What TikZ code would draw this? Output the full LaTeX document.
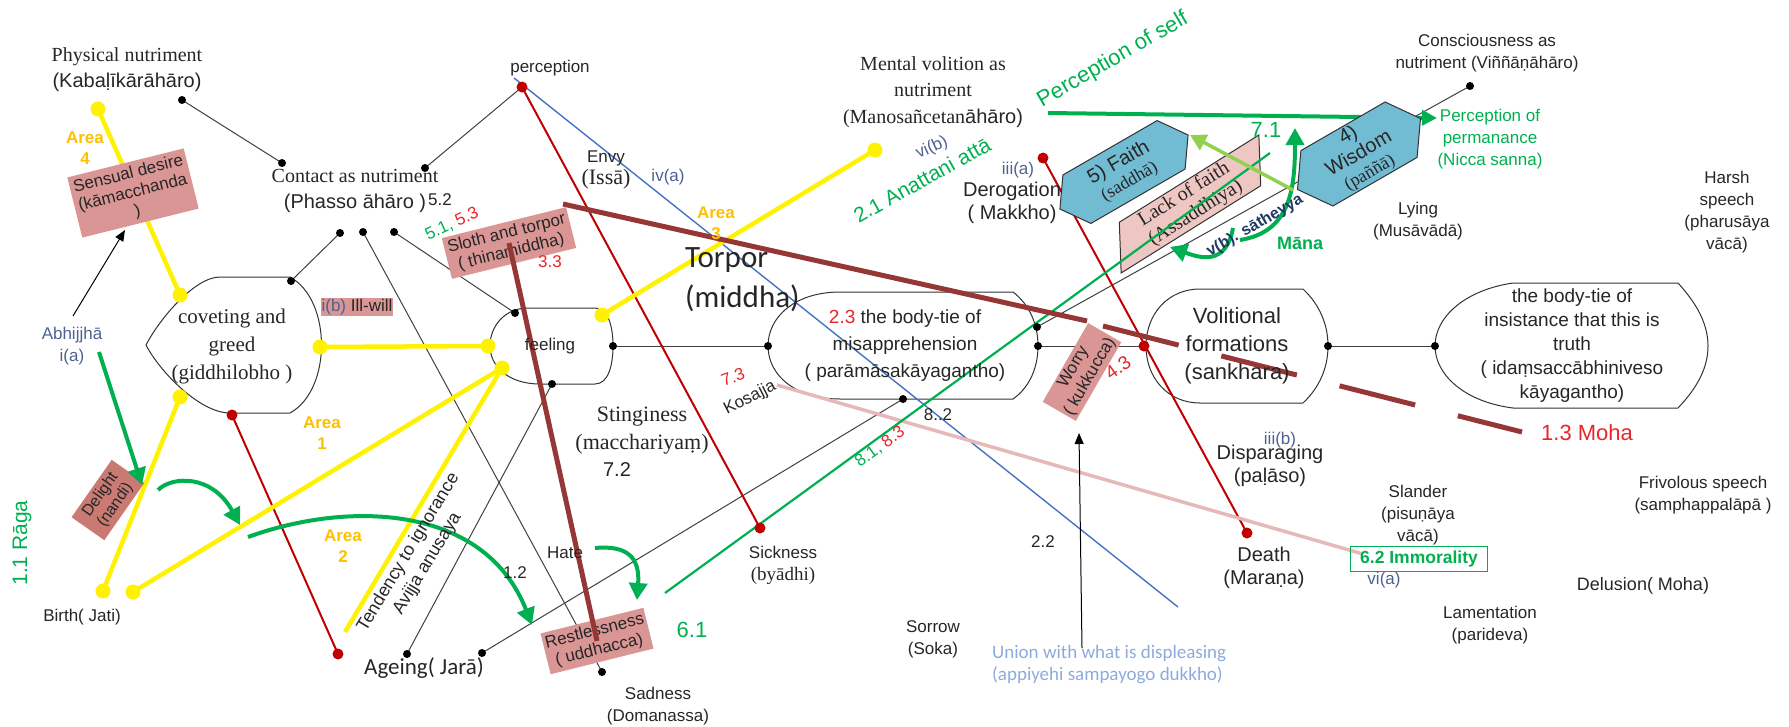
\documentclass[tikz,border=0pt]{standalone}
\usepackage{fontspec}
\setmainfont{Liberation Sans}
\newfontfamily\tnr{Liberation Serif}
\newfontfamily\calib{Carlito}
\usepackage{tikz}
\usetikzlibrary{arrows.meta,shapes.geometric,shapes.symbols}

\definecolor{txt}{HTML}{262626}
\definecolor{boxred}{HTML}{D99694}
\definecolor{delightred}{HTML}{C97A72}
\definecolor{ygreen}{HTML}{00B050}
\definecolor{lgreen}{HTML}{92D050}
\definecolor{areaor}{HTML}{FFC000}
\definecolor{dred}{HTML}{C00000}
\definecolor{tred}{HTML}{E8262A}
\definecolor{brownl}{HTML}{953735}
\definecolor{bluel}{HTML}{4472C4}
\definecolor{slate}{HTML}{4D6190}
\definecolor{navy}{HTML}{1F3864}
\definecolor{pinkl}{HTML}{E6B8B7}
\definecolor{faithblue}{HTML}{71BBD3}
\definecolor{lackpink}{HTML}{EFC7C2}
\definecolor{unionblue}{HTML}{8EAADB}

\tikzset{
t17/.style={font=\fontsize{17}{22}\selectfont},
t20/.style={font=\fontsize{20}{26}\selectfont},
lbl/.style={inner sep=0pt, align=center, text=txt},
area/.style={lbl, text=areaor, font=\fontsize{17}{21}\selectfont\bfseries}, % the yellow "Area n" marks
term/.style={lbl, fill=boxred, inner sep=2pt, font=\fontsize{17}{19}\selectfont}, % tinted boxes of the hindrances
plaque/.style={draw=black!80, line width=1pt},
wire/.style={draw=black!75, line width=1pt},
redwire/.style={draw=dred, line width=2pt},
bluewire/.style={draw=bluel, line width=1.4pt},
yelwire/.style={draw=yellow, line width=4.5pt},
pinkwire/.style={draw=pinkl, line width=3.5pt},
brownwire/.style={draw=brownl, line width=5pt},
gthin/.style={draw=ygreen, line width=2.2pt},
garrow/.style={draw=ygreen, line width=4pt, -{Triangle[length=17pt,width=18pt]}},
blackarrow/.style={draw=black, line width=1pt, -{Triangle[length=11pt,width=9pt]}},
bdot/.style={circle, fill=black, inner sep=0pt, minimum size=8pt},
ydot/.style={circle, fill=yellow, inner sep=0pt, minimum size=15pt},
rdot/.style={circle, fill=dred, inner sep=0pt, minimum size=11pt},
hexa/.style={signal, signal to=east and west, signal pointer angle=110, draw=black!80, line width=1pt, fill=faithblue, inner sep=1pt, align=center, text=txt, font=\fontsize{20}{21}\selectfont},
lack/.style={trapezium, trapezium left angle=65, trapezium right angle=115, trapezium stretches=true, draw=black!80, line width=1pt, fill=lackpink, minimum width=190pt, minimum height=44pt, inner sep=1pt, align=center, text=txt, font=\tnr\fontsize{20}{22}\selectfont},
}

\begin{document}
\begin{tikzpicture}[x=1pt, y=-1pt]
\useasboundingbox (0,0) rectangle (1789,726);

% points where the connectors meet
\coordinate (physdot) at (182,100);
\coordinate (contA) at (282,163);
\coordinate (contB) at (425,168);
\coordinate (contC) at (340,233);
\coordinate (contD) at (363,232);
\coordinate (contE) at (394,232);
\coordinate (percdot) at (522,87);
\coordinate (blueS) at (514,78);
\coordinate (blueE) at (1178,607);
\coordinate (covT) at (291,281);
\coordinate (covTL) at (180,295);
\coordinate (covE) at (320,347);
\coordinate (covBL) at (180,397);
\coordinate (covB) at (232,415);
\coordinate (yelTop) at (98,109);
\coordinate (birthA) at (103,591);
\coordinate (birthB) at (133,592);
\coordinate (ignEnd) at (345,632);
\coordinate (ageRed) at (338,654);
\coordinate (ageA) at (407,654);
\coordinate (ageB) at (482,653);
\coordinate (feelTL) at (515,313);
\coordinate (feelTR) at (602,315);
\coordinate (feelW) at (488,346);
\coordinate (feelSW) at (502,368);
\coordinate (feelS) at (552,384);
\coordinate (feelE) at (613,346);
\coordinate (mentdot) at (875,150);
\coordinate (btW) at (768,346);
\coordinate (btNE) at (1037,327);
\coordinate (btE) at (1038,346);
\coordinate (btS) at (903,399);
\coordinate (volW) at (1144,346);
\coordinate (volE) at (1328,346);
\coordinate (insW) at (1435,346);
\coordinate (consdot) at (1470,86);
\coordinate (derogdot) at (1043,158);
\coordinate (deathdot) at (1247,533);
\coordinate (sickdot) at (760,528);
\coordinate (saddot) at (602,672);
\coordinate (kosS) at (777,385);
\coordinate (kosE) at (1363,554);
\coordinate (g8S) at (665,593);
\coordinate (g8E) at (1270,153);
\coordinate (selfS) at (1048,113);
\coordinate (selfE) at (1437,118);

% the five plaques
\draw[plaque] (220,277) -- (290,277) .. controls (332,300) and (332,390) .. (290,413) -- (230,413) .. controls (200,413) and (160,372) .. (146,345) .. controls (160,318) and (195,277) .. (220,277);
\draw[plaque] (528,308) -- (595,308) .. controls (608,308) and (613,326) .. (613,346) .. controls (613,366) and (608,384) .. (595,384) -- (540,384) .. controls (508,384) and (490,366) .. (490,346) .. controls (490,326) and (505,308) .. (528,308);
\draw[plaque] (840,292) -- (1013,292) .. controls (1030,305) and (1038,325) .. (1038,346) .. controls (1038,367) and (1030,387) .. (1013,399) -- (840,399) .. controls (795,399) and (768,375) .. (768,346) .. controls (768,317) and (795,292) .. (840,292);
\draw[plaque] (1200,289) -- (1303,289) .. controls (1320,305) and (1328,325) .. (1328,346) .. controls (1328,367) and (1320,387) .. (1303,403) -- (1200,403) .. controls (1168,403) and (1146,378) .. (1146,346) .. controls (1146,314) and (1168,289) .. (1200,289);
\draw[plaque] (1513,283) -- (1678,283) .. controls (1698,305) and (1708,325) .. (1708,346) .. controls (1708,367) and (1698,387) .. (1678,408) -- (1513,408) .. controls (1465,402) and (1435,375) .. (1435,346) .. controls (1435,317) and (1465,290) .. (1513,283);

% connectors
\path[wire]
  (physdot) edge (contA)
  (percdot) edge (contB)
  (contC) edge (covT)
  (contD) edge (saddot)
  (contE) edge (feelTL)
  (ageA) edge (feelS)
  (ageB) edge (btS)
  (feelE) edge (btW)
  (btE) edge (volW)
  (volE) edge (insW)
  (btNE) edge (consdot);
\path[redwire]
  (percdot) edge (sickdot)
  (covB) edge (ageRed)
  (derogdot) edge (deathdot);
\path[bluewire] (blueS) edge (blueE);
\path[yelwire]
  (yelTop) edge (covTL)
  (covBL) edge (birthA)
  (birthB) edge (feelSW)
  (ignEnd) edge (feelSW)
  (covE) edge (feelW)
  (mentdot) edge (feelTR);
\path[pinkwire] (kosS) edge (kosE);
\draw[garrow, -{Triangle[length=15pt,width=15pt]}] (selfS) -- (selfE);

% tinted boxes
\node[term, rotate=14, minimum width=120pt, minimum height=62pt] (sensual) at (133,193) {Sensual desire\\(kāmacchanda\\)};
\node[term, rotate=55, fill=delightred, font=\fontsize{16}{18}\selectfont, minimum width=70pt, minimum height=40pt] (delight) at (108,500) {Delight\\(nandi)};
\node[term, rotate=14, minimum width=128pt, minimum height=42pt] (sloth) at (509,243) {Sloth and torpor\\( thinamiddha)};
\node[term, rotate=14, minimum width=106pt, minimum height=42pt] (restless) at (597,641) {Restlessness\\( uddhacca)};
\node[term, rotate=60, minimum width=90pt, minimum height=38pt] (worry) at (1082,372) {Worry\\( kukkucca)};
\node[term, inner sep=1pt] (illwill) at (357,307) {{\color{slate}i(b)} Ill-will};
\node[lack, rotate=32] (lackfaith) at (1190,204) {Lack of faith\\(Assaddhiya)};
\node[hexa, rotate=30, minimum width=148pt, minimum height=56pt] (faith) at (1124,172) {5) Faith\\{\tnr\fontsize{18}{20}\selectfont (saddhā)}};
\node[hexa, rotate=30, minimum width=142pt, minimum height=64pt] (wisdom) at (1359,154) {4)\\Wisdom\\{\tnr\fontsize{18}{20}\selectfont (paññā)}};
\path[gthin] (g8S) edge (g8E);

% hindrance threads
\draw[brownwire] (sloth.center) -- (restless.center);
\draw[brownwire] (563,204) coordinate (torS) -- (1087,321) coordinate (torM);
\draw[brownwire, dash pattern=on 78pt off 44pt] (1103,326) coordinate (torD) -- (1522,432) coordinate (torE);

% green arrows
\draw[garrow] (99,352) coordinate (abhG) -- (142,485) coordinate (delT);
\draw[garrow] (158,490) coordinate (delS) .. controls (172,476) and (212,474) .. (240,525) coordinate (delE);
\draw[garrow] (248,537) coordinate (bigS) .. controls (350,500) and (485,505) .. (532,625) coordinate (bigE);
\draw[garrow] (595,548) coordinate (hateS) .. controls (628,545) and (640,558) .. (637,600) coordinate (hateE);
\draw[garrow] (1240,240) coordinate (upS) .. controls (1290,232) and (1295,190) .. (1295,128) coordinate (upE);
\draw[garrow] (1233,228) coordinate (hookS) .. controls (1226,266) and (1200,258) .. (1170,247) coordinate (hookE);
\draw[draw=lgreen, line width=3.5pt, -{Triangle[length=16pt,width=17pt]}] (1293,190) coordinate (faithS) -- (1190,135) coordinate (faithE);
\draw[blackarrow] (73,316) coordinate (abhS) -- (125,230) coordinate (abhT);
\draw[blackarrow] (1082,648) coordinate (worryS) -- (1079,433) coordinate (worryT);

% dots
\foreach \d in {physdot,contA,contB,contC,contD,contE,covT,feelTL,feelS,feelE,btW,btNE,btE,btS,volE,insW,consdot,ageA,ageB,saddot}
  \node[bdot] (\d-b) at (\d) {};
\foreach \d in {yelTop,covTL,covE,covBL,birthA,birthB,feelW,feelSW,feelTR,mentdot}
  \node[ydot] (\d-y) at (\d) {};
\foreach \d in {percdot,covB,ageRed,volW,derogdot,deathdot,sickdot}
  \node[rdot] (\d-r) at (\d) {};

% plaque texts
\node[lbl, font=\tnr\fontsize{21}{28}\selectfont] (coveting) at (232,346) {coveting and\\greed\\(giddhilobho )};
\node[lbl, t17] (feeling) at (550,346) {feeling};
\node[lbl, font=\fontsize{19}{27}\selectfont] (bodytie) at (905,346) {{\color{tred}2.3} the body-tie of\\misapprehension\\( parāmāsakāyagantho)};
\node[lbl, font=\fontsize{22}{28}\selectfont] (volition) at (1237,346) {Volitional\\formations\\(sankhara)};
\node[lbl, font=\fontsize{19}{24}\selectfont] (insist) at (1572,346) {the body-tie of\\insistance that this is\\truth\\( idaṃsaccābhiniveso\\kāyagantho)};

% texts round the picture
\node[lbl, t20] (phys) at (127,70) {{\tnr Physical nutriment}\\(Kabaḷīkārāhāro)};
\node[lbl, t20] (contact) at (355,191) {{\tnr Contact as nutriment}\\(Phasso āhāro )};
\node[lbl, t17] (n52) at (440,200) {5.2};
\node[lbl, t17, rotate=25] (n51) at (452,224) {{\color{ygreen}5.1,} {\color{tred}5.3}};
\node[lbl, t17] (percep) at (550,68) {perception};
\node[lbl, t17] (envy) at (606,170) {Envy\\{\tnr\fontsize{22}{24}\selectfont (Issā)}};
\node[lbl, t17, text=slate] (iva) at (668,177) {iv(a)};
\node[lbl, font=\fontsize{20}{26.5}\selectfont] (mental) at (933,92) {{\tnr Mental volition as}\\{\tnr nutriment}\\{\tnr (Manosañcetan}āhāro)};
\node[lbl, text=ygreen, font=\fontsize{22}{26}\selectfont, rotate=30] (pself) at (1113,60) {Perception of self};
\node[lbl, t17] (consc) at (1487,53) {Consciousness as\\nutriment (Viññāṇāhāro)};
\node[lbl, t17, text=ygreen] (pperm) at (1490,139) {Perception of\\permanance\\(Nicca sanna)};
\node[lbl, t17] (harsh) at (1727,212) {Harsh\\speech\\(pharusāya\\vācā)};
\node[lbl, t17] (lying) at (1418,221) {Lying\\(Musāvādā)};
\node[lbl, text=ygreen, font=\fontsize{22}{26}\selectfont] (n71) at (1266,130) {7.1};
\node[lbl, t17, text=slate, rotate=25] (vib) at (932,148) {vi(b)};
\node[lbl, text=ygreen, font=\fontsize{21}{26}\selectfont, rotate=29] (anatta) at (922,180) {2.1 Anattani attā};
\node[lbl, t17, text=slate] (iiia) at (1018,170) {iii(a)};
\node[lbl, font=\fontsize{20}{23}\selectfont] (derog) at (1012,203) {Derogation\\( Makkho)};
\node[lbl, text=navy, font=\fontsize{16}{20}\selectfont\bfseries, rotate=30] (sathe) at (1255,226) {v(b). sātheyya};
\node[lbl, text=ygreen, font=\fontsize{18}{20}\selectfont\bfseries] (mana) at (1300,243) {Māna};
\node[area] (area4) at (85,148) {Area\\4};
\node[lbl, t17, text=slate] (abhi) at (72,346) {Abhijjhā\\i(a)};
\node[area] (area1) at (322,433) {Area\\1};
\node[lbl, text=tred, t17] (n33) at (550,262) {3.3};
\node[lbl, anchor=west, align=left, font=\calib\fontsize{31}{40}\selectfont] (torpor) at (685,280) {Torpor\\(middha)};
\node[area] (area3) at (716,223) {Area\\3};
\node[lbl, font=\tnr\fontsize{22}{28}\selectfont] (sting) at (642,431) {Stinginess\\(macchariyaṃ)};
\node[lbl, font=\fontsize{20}{24}\selectfont] (n72) at (617,470) {7.2};
\node[lbl, t17, text=tred, rotate=20] (n73) at (733,377) {7.3};
\node[lbl, t17, rotate=27] (kosajja) at (750,398) {Kosajja};
\node[lbl, text=tred, font=\fontsize{19}{22}\selectfont, rotate=35] (n43) at (1118,368) {4.3};
\node[lbl, text=tred, font=\fontsize{22}{26}\selectfont] (moha) at (1587,433) {1.3 Moha};
\node[lbl, t17, text=slate] (iiib) at (1280,440) {iii(b)};
\node[lbl, font=\fontsize{20}{23}\selectfont] (dispar) at (1270,466) {Disparaging\\(paḷāso)};
\node[lbl, t17, rotate=36] (n81) at (880,447) {{\color{ygreen}8.1,} {\color{tred}8.3}};
\node[lbl, t17] (n82) at (938,415) {8..2};
\node[lbl, t17] (n22) at (1043,542) {2.2};
\node[lbl, text=ygreen, font=\fontsize{21}{24}\selectfont, rotate=90] (raga) at (22,543) {1.1 Rāga};
\node[area] (area2) at (343,546) {Area\\2};
\node[lbl, t17] (birth) at (82,617) {Birth( Jati)};
\node[lbl, font=\fontsize{18}{22}\selectfont, rotate=59] (tendency) at (418,558) {Tendency to ignorance\\Avijja anusaya};
\node[lbl, font=\calib\fontsize{23}{26}\selectfont] (ageing) at (424,668) {Ageing( Jarā)};
\node[lbl, t17] (n12) at (515,573) {1.2};
\node[lbl, t17] (hate) at (565,553) {Hate};
\node[lbl, t17] (sadness) at (658,706) {Sadness\\(Domanassa)};
\node[lbl, text=ygreen, font=\fontsize{22}{26}\selectfont] (n61) at (692,630) {6.1};
\node[lbl, t17] (sick) at (783,565) {Sickness\\{\tnr\fontsize{19}{22}\selectfont (byādhi)}};
\node[lbl, t17] (sorrow) at (933,639) {Sorrow\\(Soka)};
\node[lbl, anchor=west, align=left, text=unionblue, font=\calib\fontsize{19}{22}\selectfont] (union) at (992,665) {Union with what is displeasing\\(appiyehi sampayogo dukkho)};
\node[lbl, font=\fontsize{20}{23}\selectfont] (death) at (1264,568) {Death\\(Maraṇa)};
\node[lbl, t17] (slander) at (1418,515) {Slander\\(pisuṇāya\\vācā)};
\node[lbl, draw=ygreen, line width=1.2pt, text=ygreen, font=\fontsize{17.5}{20}\selectfont\bfseries, minimum width=137pt, minimum height=25pt] (immor) at (1419,559) {6.2 Immorality};
\node[lbl, t17, text=slate] (via) at (1384,580) {vi(a)};
\node[lbl, t17] (lament) at (1490,625) {Lamentation\\(parideva)};
\node[lbl, font=\fontsize{18}{22}\selectfont] (delusion) at (1643,586) {Delusion( Moha)};
\node[lbl, t17] (frivol) at (1703,495) {Frivolous speech\\(samphappalāpā )};
\end{tikzpicture}
\end{document}
